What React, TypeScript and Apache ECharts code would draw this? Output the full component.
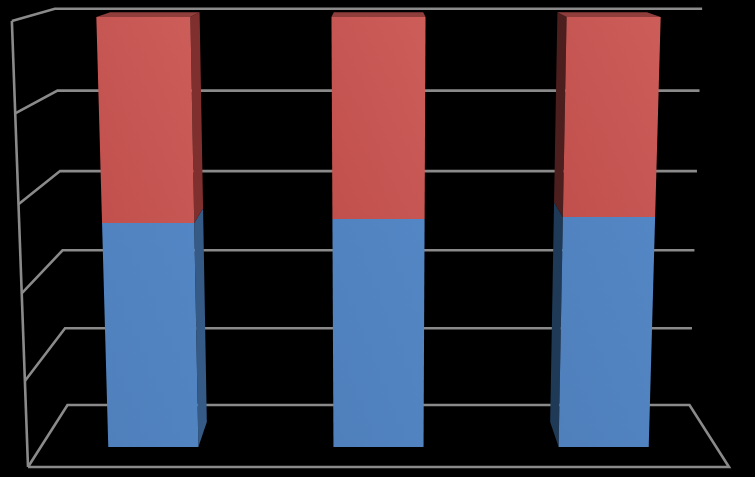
import React, { useEffect, useRef } from "react";
import * as echarts from "echarts";

// Data (100% stacked columns, no labels shown)
const categories = ["A", "B", "C"];
const blueValues = [53.2, 54.1, 54.6];
const redValues = [46.8, 45.9, 45.4];
const valueTicks = [0, 20, 40, 60, 80, 100];

// Perspective of the 3D scene
const CX = 378.5;
const HALF_W = 350.5;
const W_Y = -0.044;
const W_Z = 0.127;
const Y0 = 467;
const Y_H = 446.9;
const Y_D = 10.56;
const FRONT_Z = 0.297;
const BACK_Z = 0.7;
const BAR_FRACTION = 0.4;

const project = (X: number, Y: number, Z: number): [number, number] => {
  const w = 1 + W_Y * Y + W_Z * Z;
  return [CX + (X * HALF_W) / w, (Y0 - Y_H * Y - Y_D * Z) / w];
};

const normaliser = (params: any) => {
  const g = params.coordSys;
  return (p: number[]) => [((p[0] - g.x) / g.width) * 2 - 1, (g.y + g.height - p[1]) / g.height];
};

const boxSeries = (values: number[], bases: number[], colors: any) => ({
  type: "custom",
  silent: true,
  clip: false,
  z: 5,
  encode: { x: 0, y: 2 },
  data: values.map((v, i) => [i, bases[i], bases[i] + v]),
  renderItem: (params: any, api: any) => {
    const norm = normaliser(params);
    const [xc, y0] = norm(api.coord([api.value(0), api.value(1)]));
    const [, y1] = norm(api.coord([api.value(0), api.value(2)]));
    const band = (api.size([1, 0])[0] / params.coordSys.width) * 2;
    const xl = xc - (band * BAR_FRACTION) / 2;
    const xr = xc + (band * BAR_FRACTION) / 2;
    const poly = (pts: [number, number, number][], fill: any) => ({
      type: "polygon",
      shape: { points: pts.map((p) => project(p[0], p[1], p[2])) },
      style: { fill, stroke: null },
    });
    const F = FRONT_Z;
    const B = BACK_Z;
    const children: any[] = [];
    if (xc > 0.01) children.push(poly([[xl, y0, F], [xl, y1, F], [xl, y1, B], [xl, y0, B]], colors.left));
    if (xc < -0.01) children.push(poly([[xr, y0, F], [xr, y1, F], [xr, y1, B], [xr, y0, B]], colors.right));
    if (colors.top) children.push(poly([[xl, y1, F], [xr, y1, F], [xr, y1, B], [xl, y1, B]], colors.top));
    children.push(
      poly([[xl, y0, F], [xr, y0, F], [xr, y1, F], [xl, y1, F]], {
        type: "linear",
        x: 0,
        y: 1,
        x2: 1,
        y2: 0,
        colorStops: [
          { offset: 0, color: colors.front[0] },
          { offset: 1, color: colors.front[1] },
        ],
      })
    );
    return { type: "group", children };
  },
});

const frameSeries = {
  type: "custom",
  silent: true,
  clip: false,
  z: 1,
  encode: { y: 0 },
  data: valueTicks.map((t) => [t]),
  renderItem: (params: any, api: any) => {
    const norm = normaliser(params);
    const tick = api.value(0);
    const [, Y] = norm(api.coord([0, tick]));
    const style = { stroke: "#8a8a8a", lineWidth: 2.6, fill: "none", lineJoin: "miter" };
    const pts: [number, number][] = [project(-1, Y, 0), project(-1, Y, 1), project(1, Y, 1)];
    if (tick === 0) pts.push(project(1, Y, 0), project(-1, Y, 0));
    const children: any[] = [{ type: "polyline", shape: { points: pts }, style }];
    if (tick === 100) {
      children.push({
        type: "polyline",
        shape: { points: [project(-1, 0, 0), project(-1, 1, 0)] },
        style,
      });
    }
    return { type: "group", children };
  },
};

export default function App() {
  const ref = useRef<HTMLDivElement>(null);
  useEffect(() => {
    document.body.style.margin = "0";
    document.body.style.background = "#000";
    const chart = echarts.init(ref.current!, null, { renderer: "svg" });
    chart.setOption({
      animation: false,
      backgroundColor: "#000000",
      grid: { left: 28, right: 26, top: 21, bottom: 10 },
      xAxis: {
        type: "category",
        data: categories,
        axisLine: { show: false },
        axisTick: { show: false },
        axisLabel: { show: false },
        splitLine: { show: false },
      },
      yAxis: {
        type: "value",
        min: 0,
        max: 100,
        interval: 20,
        axisLine: { show: false },
        axisTick: { show: false },
        axisLabel: { show: false },
        splitLine: { show: false },
      },
      series: [
        frameSeries,
        boxSeries(blueValues, [0, 0, 0], {
          front: ["#4f80bc", "#5386c4"],
          left: "#1f3a57",
          right: "#345a85",
        }),
        boxSeries(redValues, blueValues, {
          front: ["#c1504d", "#cc5d59"],
          left: "#4c1f1e",
          right: "#7f302e",
          top: "#8f3e3c",
        }),
      ],
    });
    return () => chart.dispose();
  }, []);
  return <div ref={ref} style={{ width: 755, height: 477 }} />;
}
